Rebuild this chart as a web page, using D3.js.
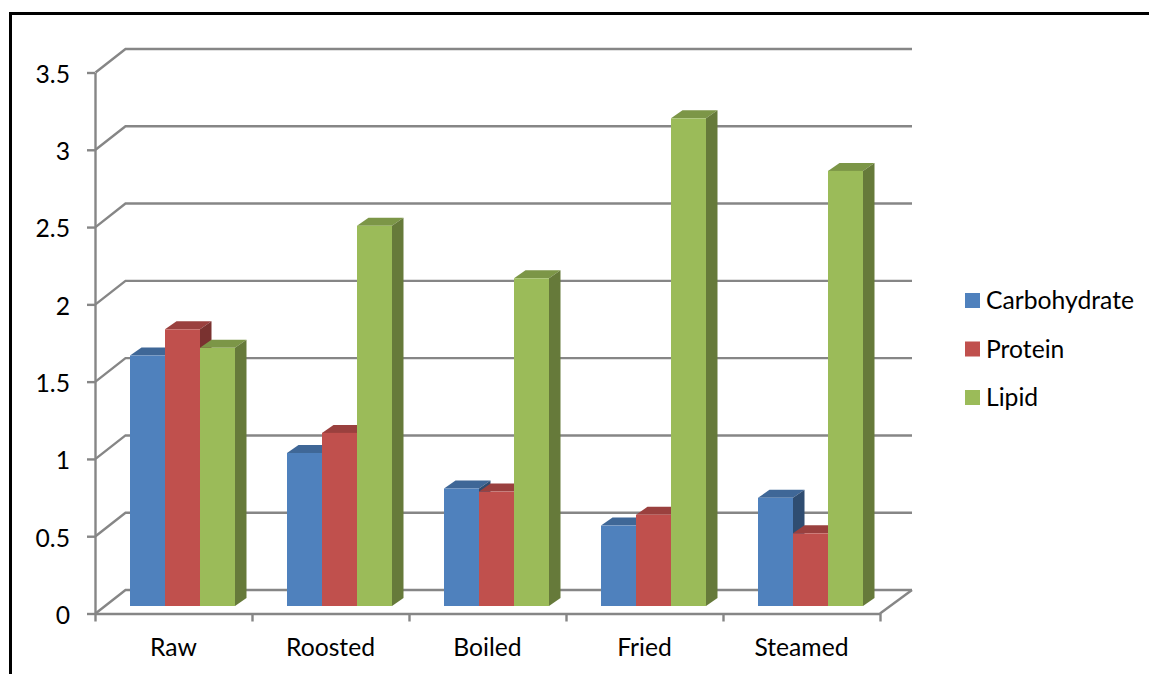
<!DOCTYPE html>
<html>
<head>
<meta charset="utf-8">
<style>
  html, body { margin: 0; padding: 0; background: #fff; }
  svg { display: block; }
  text { font-family: Lato, "Open Sans", sans-serif; fill: #000; }
</style>
<script src="https://cdn.jsdelivr.net/npm/d3@7"></script>
</head>
<body>
<svg id="chart" width="1149" height="674"></svg>
<script>
const categories = ["Raw", "Roosted", "Boiled", "Fried", "Steamed"];
const seriesNames = ["Carbohydrate", "Protein", "Lipid"];
const carbohydrate = [1.62, 0.99, 0.76, 0.52, 0.70];
const protein = [1.79, 1.12, 0.74, 0.59, 0.47];
const lipid = [1.67, 2.46, 2.12, 3.155, 2.815];
const yTicks = [0, 0.5, 1, 1.5, 2, 2.5, 3, 3.5];

const frontColors = ["#4F81BD", "#C0504D", "#9BBB59"];
const topColors = ["#3F6797", "#9A403E", "#7C9647"];
const sideColors = ["#2F4D71", "#7A3230", "#667A3A"];
const gridColor = "#868686";
const labelSize = "24.7px";

const svg = d3.select("#chart");

// Outer frame, open on the right and bottom
svg.append("path")
  .attr("d", "M10.5,674V13.5H1149")
  .attr("fill", "none")
  .attr("stroke", "#000")
  .attr("stroke-width", 3);

const x = d3.scaleBand().domain(categories).range([95, 880]);
const y = d3.scaleLinear().domain([0, 3.5]).range([613.5, 72.5]);
const inner = d3.scaleBand().domain(seriesNames).range([35, 140]);

// Oblique projection of the chart depth
const wallDx = 30, wallDy = -23.5;
const barDx = 11.5, barDy = -8;
const floorLift = -7.5;
const wallEnd = 882;

// Back wall gridlines with their diagonal run along the left wall
svg.append("g").selectAll("path")
  .data(yTicks)
  .join("path")
  .attr("fill", "none")
  .attr("stroke", gridColor)
  .attr("stroke-width", 2.4)
  .attr("d", t => d3.line()([
    [95.5, y(t)],
    [95.5 + wallDx, y(t) + wallDy],
    [wallEnd + wallDx, y(t) + wallDy]
  ]));

// Right edge of the floor
svg.append("line")
  .attr("x1", 880).attr("y1", y(0))
  .attr("x2", wallEnd + wallDx).attr("y2", y(0) + wallDy)
  .attr("stroke", gridColor).attr("stroke-width", 2.4);

// Axes
const yAxis = svg.append("g")
  .attr("transform", "translate(95,0)")
  .call(d3.axisLeft(y).tickValues(yTicks).tickSize(8).tickPadding(17).tickSizeOuter(0).tickFormat(d => String(d)));
const xAxis = svg.append("g")
  .attr("transform", `translate(0,${y(0)})`)
  .call(d3.axisBottom(d3.scalePoint().domain(d3.range(6)).range([95, 880])).tickSize(8).tickSizeOuter(0).tickFormat(""));
[yAxis, xAxis].forEach(a => {
  a.selectAll("path, line").attr("stroke", gridColor).attr("stroke-width", 2.4);
  a.selectAll("text").style("font-family", "Lato, sans-serif").style("font-size", labelSize).attr("fill", "#000").attr("dy", "0.4em");
});

// Category labels
svg.append("g").selectAll("text")
  .data(categories)
  .join("text")
  .attr("x", c => x(c) + x.bandwidth() / 2)
  .attr("y", 656)
  .attr("text-anchor", "middle")
  .style("font-size", labelSize)
  .text(c => c);

// Bars drawn left to right so each one overlaps its neighbour's depth faces
const seriesValues = [carbohydrate, protein, lipid];
categories.forEach((c, ci) => {
  seriesNames.forEach((s, si) => {
    const x0 = x(c) + inner(s);
    const x1 = x0 + inner.bandwidth();
    const yTop = y(seriesValues[si][ci]) + floorLift;
    const yBase = y(0) + floorLift;
    const g = svg.append("g");
    g.append("path").attr("fill", topColors[si])
      .attr("d", d3.line()([[x0, yTop], [x1, yTop], [x1 + barDx, yTop + barDy], [x0 + barDx, yTop + barDy]]) + "Z");
    g.append("path").attr("fill", sideColors[si])
      .attr("d", d3.line()([[x1, yTop], [x1 + barDx, yTop + barDy], [x1 + barDx, yBase + barDy], [x1, yBase]]) + "Z");
    g.append("rect").attr("fill", frontColors[si])
      .attr("x", x0).attr("y", yTop)
      .attr("width", x1 - x0).attr("height", yBase - yTop);
  });
});

// Legend
const legendY = d3.scalePoint().domain(seriesNames).range([293, 390]);
const legend = svg.append("g").selectAll("g")
  .data(seriesNames)
  .join("g")
  .attr("transform", s => `translate(965,${legendY(s)})`);
legend.append("rect")
  .attr("width", 15).attr("height", 15)
  .attr("fill", (s, i) => frontColors[i]);
legend.append("text")
  .attr("x", 21).attr("y", 16)
  .style("font-size", labelSize)
  .text(s => s);
</script>
</body>
</html>
